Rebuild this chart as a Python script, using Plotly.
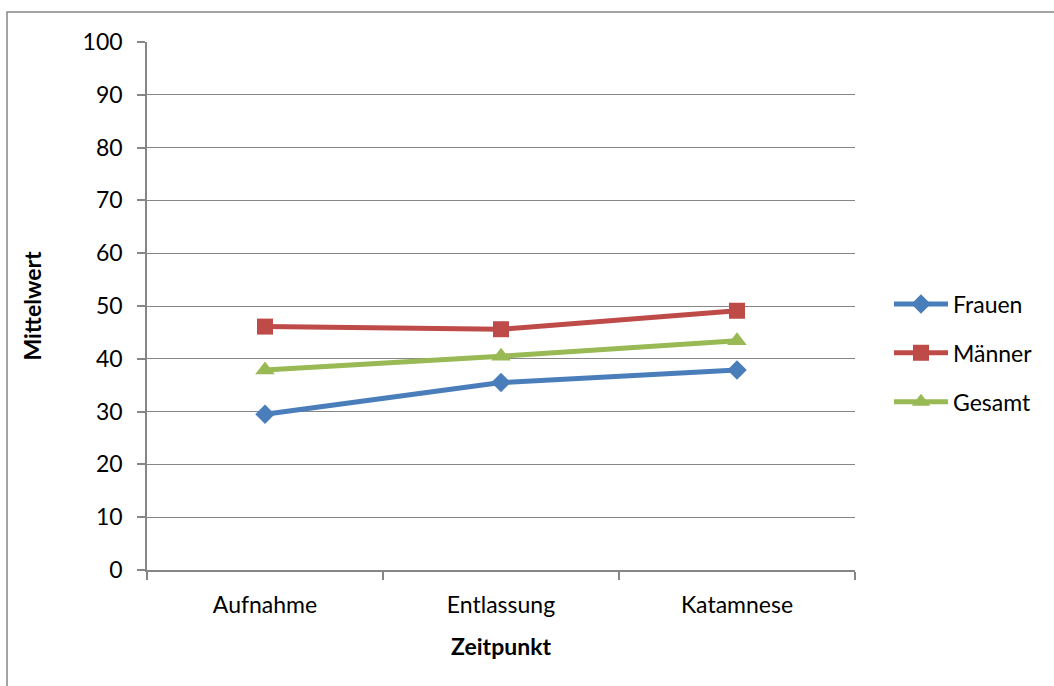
import plotly.graph_objects as go

# Data
zeitpunkte = ["Aufnahme", "Entlassung", "Katamnese"]
frauen = [29.5, 35.5, 37.9]
maenner = [46.1, 45.6, 49.1]
gesamt = [37.9, 40.5, 43.4]
y_ticks = [0, 10, 20, 30, 40, 50, 60, 70, 80, 90, 100]

FONT = "Lato, 'Open Sans', sans-serif"
GRID = "#868686"
FS = 23

fig = go.Figure()

series = [
    ("Frauen", frauen, "#4A7EBB", "diamond", 15),
    ("Männer", maenner, "#BE4B48", "square", 16),
    ("Gesamt", gesamt, "#98B954", "triangle-up", 17),
]
for name, vals, color, symbol, msize in series:
    fig.add_trace(go.Scatter(
        x=zeitpunkte, y=vals, name=name, mode="lines+markers",
        line=dict(color=color, width=5),
        marker=dict(symbol=symbol, size=msize, color=color),
        legendgroup=name,
    ))

L, R, T, B = 147, 199, 42, 116
W, H = 1054, 686
pw, ph = W - L - R, H - T - B

def px_x(p):
    return (p - L) / pw

def px_y(p):
    return (H - B - p) / ph

# outer chart frame
fig.add_shape(type="rect", xref="paper", yref="paper",
              x0=px_x(7), x1=px_x(1060), y0=px_y(700), y1=px_y(12),
              line=dict(color=GRID, width=1.5), fillcolor="rgba(0,0,0,0)", layer="below")

fig.update_layout(
    width=W, height=H,
    margin=dict(l=L, r=R, t=T, b=B),
    paper_bgcolor="white", plot_bgcolor="white",
    font=dict(family=FONT, size=FS, color="#000000"),
    showlegend=True,
    legend=dict(x=px_x(889), y=px_y(353), xanchor="left", yanchor="middle",
                font=dict(size=FS), tracegroupgap=16, itemwidth=54,
                bgcolor="rgba(0,0,0,0)"),
    xaxis=dict(
        type="category", range=[-0.5, 2.5], tickson="boundaries", showgrid=False,
        showline=True, linecolor=GRID, linewidth=1.5,
        ticks="outside", ticklen=8, tickcolor=GRID, tickwidth=1.5,
        ticklabelstandoff=14,
        title=dict(text="<b>Zeitpunkt</b>", font=dict(size=FS), standoff=22),
    ),
    yaxis=dict(
        range=[0, 100], tickvals=y_ticks, showgrid=True,
        gridcolor=GRID, gridwidth=1.2,
        showline=True, linecolor=GRID, linewidth=1.5,
        ticks="outside", ticklen=8, tickcolor=GRID, tickwidth=1.5,
        ticklabelstandoff=10, zeroline=False,
        title=dict(text="<b>Mittelwert</b>", font=dict(size=FS), standoff=35),
    ),
)

fig.write_html("out.html")
